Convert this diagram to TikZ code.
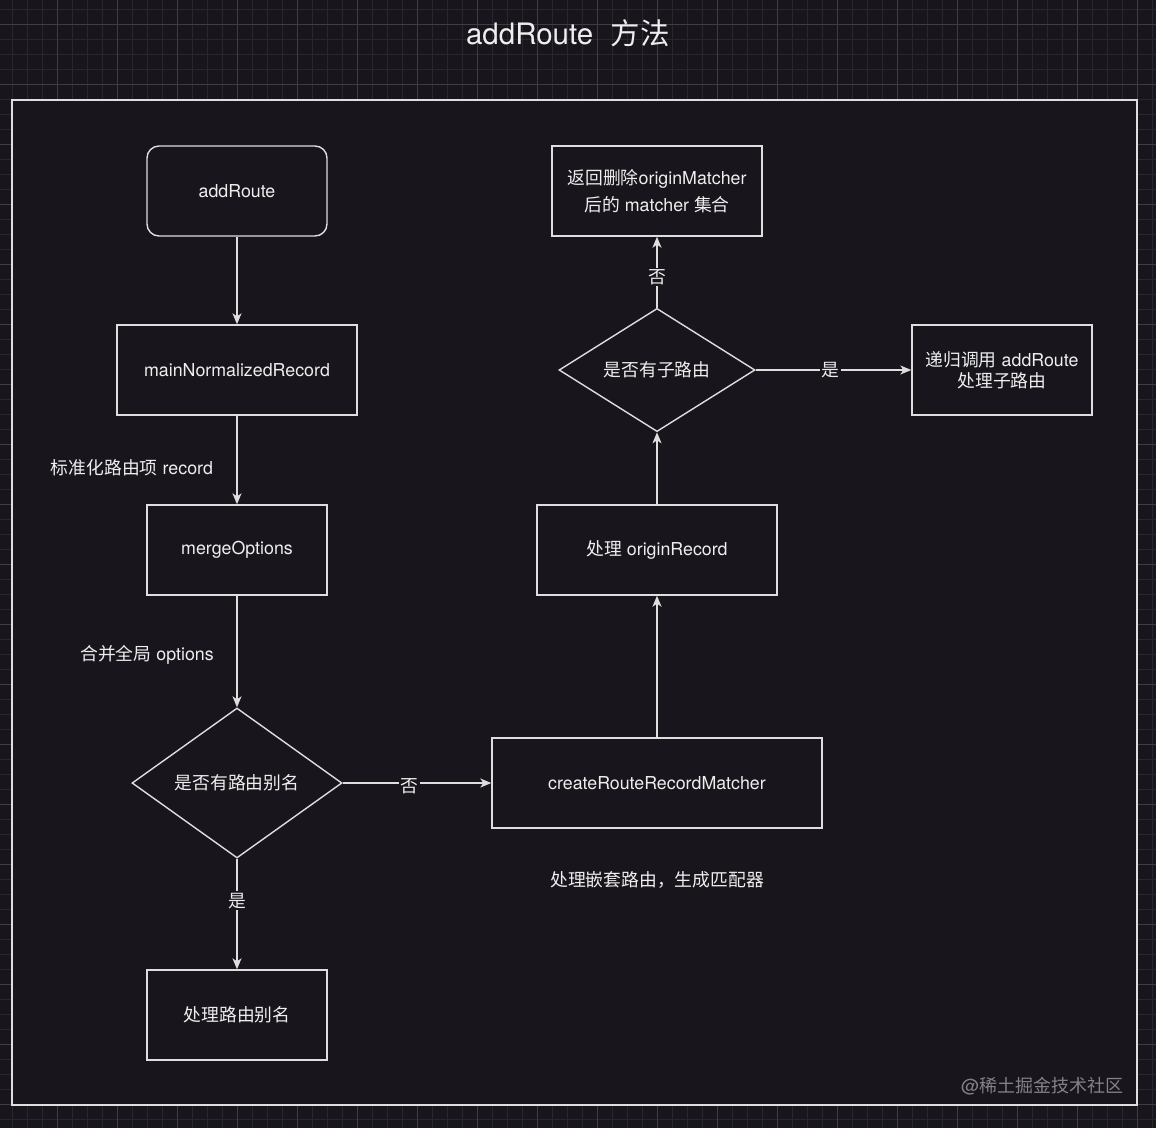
\documentclass[tikz,border=0pt]{standalone}
\usepackage{fontspec}
\setmainfont{TeX Gyre Heros}
\newfontfamily\cjk{Noto Sans CJK SC}
\usetikzlibrary{shapes.geometric,arrows.meta}
\definecolor{bg}{RGB}{24,22,28}
\definecolor{gridminor}{RGB}{40,39,45}
\definecolor{gridmajor}{RGB}{62,61,67}
\definecolor{fg}{RGB}{238,238,238}
\definecolor{edge}{RGB}{222,222,222}
\definecolor{wm}{RGB}{130,130,135}
\tikzset{
  txt/.style={text=fg, font=\fontsize{17.8}{22}\selectfont, align=center},
  box/.style={txt, draw=edge, line width=1.4pt, fill=bg, inner sep=0pt},
  dia/.style={txt, draw=edge, line width=1.4pt, fill=bg, diamond, inner sep=0pt},
  arr/.style={draw=edge, line width=1.3pt, -{Stealth[length=11pt,width=9pt,inset=3pt]}},
  elab/.style={txt, fill=bg, inner sep=1.5pt},
}
\begin{document}
\begin{tikzpicture}[x=1pt,y=-1pt]
\useasboundingbox (0,0) rectangle (1156,1128);
\fill[bg] (0,0) rectangle (1156,1128);
\foreach \x in {12,27,...,1156} \draw[gridminor, line width=0.8pt] (\x,0) -- (\x,1128);
\foreach \y in {9,24,...,1128} \draw[gridminor, line width=0.8pt] (0,\y) -- (1156,\y);
\foreach \x in {57,117,...,1156} \draw[gridmajor, line width=0.9pt] (\x,0) -- (\x,1128);
\foreach \y in {24,84,...,1128} \draw[gridmajor, line width=0.9pt] (0,\y) -- (1156,\y);
\draw[edge, line width=1.5pt, fill=bg] (12,100) rectangle (1137,1105);

\node[text=fg, font=\fontsize{29.5}{34}\selectfont] (title) at (568,33) {addRoute\hspace{0.6em}{\cjk 方法}};

\node[box, rounded corners=12pt, minimum width=180pt, minimum height=90pt] (add) at (237,191) {addRoute};
\node[box, minimum width=240pt, minimum height=90pt] (mnr) at (237,370) {mainNormalizedRecord};
\node[box, minimum width=180pt, minimum height=90pt] (merge) at (237,550) {mergeOptions};
\node[dia, minimum width=210pt, minimum height=150pt] (d1) at (237,783) {\cjk 是否有路由别名};
\node[box, minimum width=180pt, minimum height=90pt] (alias) at (237,1015) {\cjk 处理路由别名};
\node[box, minimum width=330pt, minimum height=90pt] (crm) at (657,783) {createRouteRecordMatcher};
\node[box, minimum width=240pt, minimum height=90pt] (por) at (657,550) {{\cjk 处理} originRecord};
\node[dia, minimum width=196pt, minimum height=120pt] (d2) at (657,370) {\cjk 是否有子路由};
\node[box, minimum width=180pt, minimum height=90pt] (rec) at (1002,370) {{\cjk 递归调用} addRoute\\[-1pt]{\cjk 处理子路由}};
\node[box, minimum width=210pt, minimum height=90pt] (ret) at (657,191) {{\cjk 返回删除}originMatcher\\[5pt]{\cjk 后的} matcher {\cjk 集合}};

\node[txt] (lab1) at (132,468) {{\cjk 标准化路由项} record};
\node[txt] (lab2) at (147,655) {{\cjk 合并全局} options};
\node[txt] (lab3) at (657,880) {\cjk 处理嵌套路由，生成匹配器};
\node[text=wm, font=\fontsize{18}{22}\selectfont, anchor=east] (wmk) at (1127,1086) {@{\cjk 稀土掘金技术社区}};

\draw[arr] (add) -- (mnr);
\draw[arr] (mnr) -- (merge);
\draw[arr] (merge) -- (d1);
\draw[arr] (d1) -- node[elab, pos=0.45, yshift=-3pt] {\cjk 否} (crm);
\draw[arr] (d1) -- node[elab, pos=0.38] {\cjk 是} (alias);
\draw[arr] (crm) -- (por);
\draw[arr] (por) -- (d2);
\draw[arr] (d2) -- node[elab, pos=0.48] {\cjk 是} (rec);
\draw[arr] (d2) -- node[elab, pos=0.43] {\cjk 否} (ret);
\end{tikzpicture}
\end{document}
